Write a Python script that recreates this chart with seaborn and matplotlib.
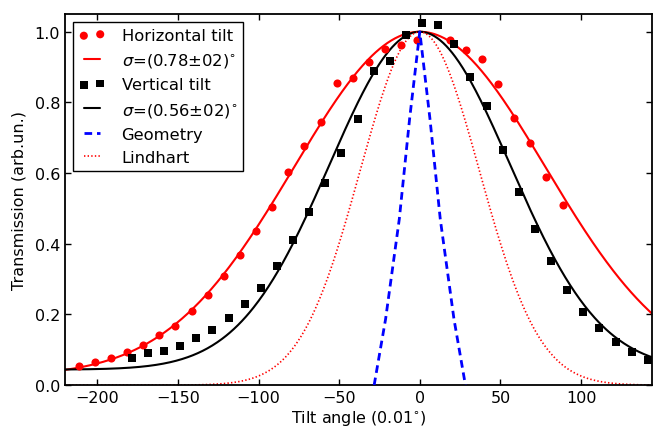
import numpy as np
import pandas as pd
import matplotlib
matplotlib.use("Agg")
import matplotlib.pyplot as plt
import seaborn as sns

# Measured points (tilt angle in 0.01 deg, transmission)
h_angle = [-211.5, -201.5, -191.5, -181.5, -171.5, -161.5, -151.5, -141.5, -131.5, -121.5,
           -111.5, -101.5, -91.5, -81.5, -71.5, -61.5, -51.5, -41.5, -31.5, -21.5,
           -11.5, -1.5, 18.5, 28.5, 38.5, 48.5, 58.5, 68.5, 78.5, 88.5]
h_trans = [0.055, 0.065, 0.078, 0.094, 0.114, 0.141, 0.167, 0.210, 0.254, 0.308,
           0.367, 0.435, 0.505, 0.603, 0.678, 0.744, 0.855, 0.870, 0.914, 0.950,
           0.963, 0.977, 0.977, 0.948, 0.922, 0.852, 0.756, 0.685, 0.590, 0.510]

v_angle = [-178.6, -168.6, -158.6, -148.6, -138.6, -128.6, -118.6, -108.6, -98.6, -88.6,
           -78.6, -68.6, -58.6, -48.6, -38.6, -28.6, -18.6, -8.6, 1.4, 11.4,
           21.4, 31.4, 41.4, 51.4, 61.4, 71.4, 81.4, 91.4, 101.4, 111.4,
           121.4, 131.4, 141.4]
v_trans = [0.078, 0.090, 0.096, 0.111, 0.134, 0.157, 0.189, 0.229, 0.276, 0.338,
           0.412, 0.489, 0.571, 0.656, 0.754, 0.889, 0.917, 0.991, 1.025, 1.020,
           0.966, 0.872, 0.790, 0.666, 0.548, 0.442, 0.350, 0.269, 0.208, 0.161,
           0.123, 0.093, 0.071]

# Geometric acceptance
geo_angle = [-28.3, -21.2, -12.7, -6.3, 0.0, 6.3, 12.7, 21.2, 28.3]
geo_trans = [0.0, 0.187, 0.47, 0.754, 1.0, 0.754, 0.47, 0.187, 0.0]

# Gaussian model parameters (sigma in 0.01 deg)
sigma_h, base_h = 78.0, 0.025
sigma_v, base_v = 56.0, 0.044
sigma_lind = 37.0

labels = ['Horizontal tilt', r'$\sigma$=(0.78$\pm$02)$^{\circ}$',
          'Vertical tilt', r'$\sigma$=(0.56$\pm$02)$^{\circ}$',
          'Geometry', 'Lindhart']

sns.set_style("ticks", {"xtick.direction": "in", "ytick.direction": "in",
                        "axes.edgecolor": "black", "xtick.color": "black",
                        "ytick.color": "black", "text.color": "black",
                        "axes.labelcolor": "black"})
plt.rcParams['font.family'] = ['DejaVu Sans']
plt.rcParams['xtick.top'] = True
plt.rcParams['ytick.right'] = True
plt.rcParams['lines.scale_dashes'] = False
plt.rcParams['axes.linewidth'] = 1.3

fig = plt.figure(figsize=(6.53, 4.31), dpi=100)
ax = fig.add_axes([0.0995, 0.104, 0.899, 0.861])

xs = np.linspace(-220, 145, 600)
fit_h = pd.DataFrame({'x': xs, 'y': base_h + (1 - base_h) * np.exp(-xs**2 / (2 * sigma_h**2))})
fit_v = pd.DataFrame({'x': xs, 'y': base_v + (1 - base_v) * np.exp(-xs**2 / (2 * sigma_v**2))})
lind = pd.DataFrame({'x': xs, 'y': np.exp(-xs**2 / (2 * sigma_lind**2))})

sns.scatterplot(x=h_angle, y=h_trans, ax=ax, color='red', marker='o', s=34,
                linewidth=0, label=labels[0], zorder=3)
sns.lineplot(data=fit_h, x='x', y='y', ax=ax, color='red', lw=1.5, label=labels[1], zorder=2)
sns.scatterplot(x=v_angle, y=v_trans, ax=ax, color='black', marker='s', s=30,
                linewidth=0, label=labels[2], zorder=3)
sns.lineplot(data=fit_v, x='x', y='y', ax=ax, color='black', lw=1.5, label=labels[3], zorder=2)
sns.lineplot(x=geo_angle, y=geo_trans, ax=ax, color='blue', lw=2,
             linestyle=(0, (5.5, 3.5)), label=labels[4], zorder=4, sort=False)
sns.lineplot(data=lind, x='x', y='y', ax=ax, color='red', lw=1.2,
             linestyle=(0, (1, 1.6)), label=labels[5], zorder=2)

ax.set_xlim(-220, 144)
ax.set_ylim(0, 1.05)
ax.set_xticks([-200, -150, -100, -50, 0, 50, 100])
ax.set_yticks([0.0, 0.2, 0.4, 0.6, 0.8, 1.0])
ax.set_xticklabels(['\u2212200', '\u2212150', '\u2212100', '\u221250', '0', '50', '100'])
ax.set_yticklabels(['0.0', '0.2', '0.4', '0.6', '0.8', '1.0'])
ax.tick_params(labelsize=11.5, length=4, width=1)
ax.set_xlabel('Tilt angle (0.01$^{\\circ}$)', fontsize=11.5, labelpad=2)
ax.set_ylabel('Transmission (arb.un.)', fontsize=11.5, labelpad=6)
for sp in ax.spines.values():
    sp.set_visible(True)

handles, labs = ax.get_legend_handles_labels()
order = [labs.index(l) for l in labels]
leg = ax.legend([handles[i] for i in order], [labs[i] for i in order],
                loc='upper left', bbox_to_anchor=(0.0, 1.0), borderaxespad=0.5,
                fontsize=11.8, scatterpoints=2, numpoints=2, handlelength=1.6,
                handletextpad=1.0, labelspacing=0.5, borderpad=0.35,
                fancybox=False, framealpha=1, edgecolor='black')
leg.get_frame().set_linewidth(1.0)

plt.savefig('out.png', dpi=100)
plt.close()
